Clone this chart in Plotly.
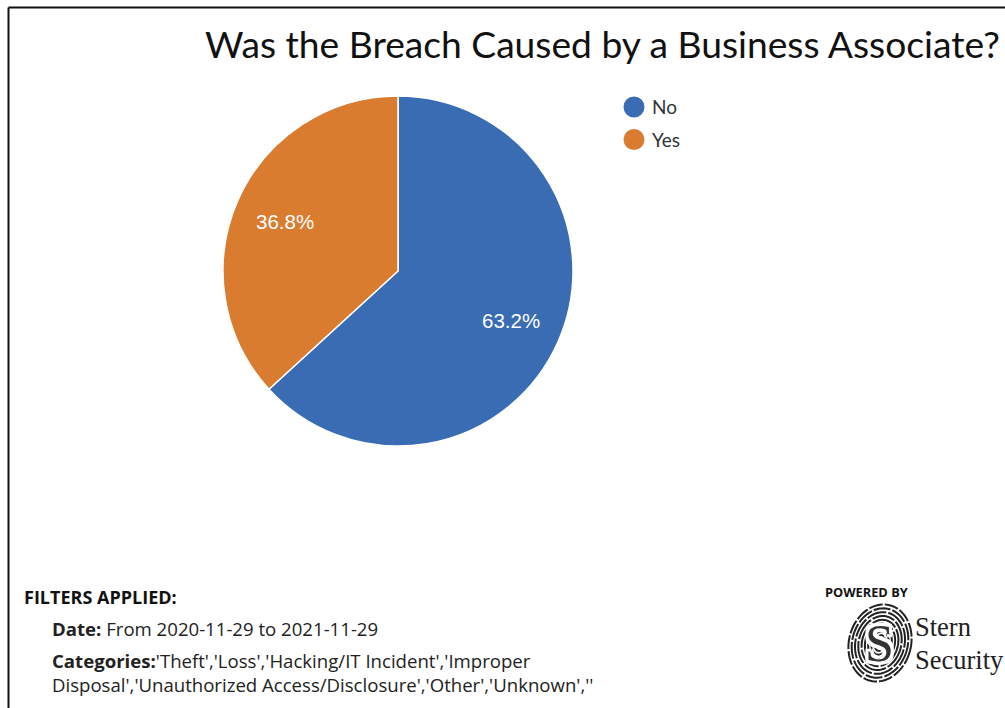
import numpy as np
import plotly.graph_objects as go

W, H = 1005, 708

labels = ["No", "Yes"]
values = [63.2, 36.8]
colors = ["#3a6cb4", "#d97c30"]
title_text = "Was the Breach Caused by a Business Associate?"

PIE_LEFT, PIE_RIGHT, PIE_TOP, PIE_BOTTOM = 223, 573, 96, 446


def px(x):
    return x / W


def py(y):
    return 1 - y / H


fig = go.Figure(
    go.Pie(
        labels=labels,
        values=values,
        sort=False,
        direction="clockwise",
        rotation=0,
        marker=dict(colors=colors, line=dict(color="white", width=1.5)),
        textinfo="none",
        showlegend=False,
        hoverinfo="label+percent",
        domain=dict(x=[px(PIE_LEFT), px(PIE_RIGHT)], y=[py(PIE_BOTTOM), py(PIE_TOP)]),
    )
)

shapes = []
annotations = []


def text(x, y, s, size, family, color="#111111", anchor="left", weight=None):
    font = dict(family=family, size=size, color=color)
    if weight:
        font["weight"] = weight
    annotations.append(dict(
        x=px(x), y=py(y), xref="paper", yref="paper", text=s, showarrow=False,
        xanchor=anchor, yanchor="middle", align="left",
        font=font, borderpad=0, borderwidth=0,
    ))


# Slice percentages sit at 0.706 of the radius along each slice's middle angle
pie_cx = (PIE_LEFT + PIE_RIGHT) / 2
pie_cy = (PIE_TOP + PIE_BOTTOM) / 2
pie_r = (PIE_RIGHT - PIE_LEFT) / 2
shares = np.array(values) / sum(values)
mids = 2 * np.pi * (np.cumsum(shares) - shares / 2)
for share, mid in zip(shares, mids):
    text(pie_cx + 0.706 * pie_r * np.sin(mid), pie_cy - 0.706 * pie_r * np.cos(mid),
         f"{share * 100:.1f}%", 20.5, "Liberation Sans", "white", anchor="center")

# Frame along the top and left edges
shapes.append(dict(type="line", xref="paper", yref="paper", x0=px(8.5), x1=1, y0=py(7.5), y1=py(7.5),
                   line=dict(color="#111111", width=2)))
shapes.append(dict(type="line", xref="paper", yref="paper", x0=px(8.5), x1=px(8.5), y0=py(7.5), y1=0,
                   line=dict(color="#111111", width=2)))

# Legend with round keys
for name, color, cy in zip(labels, colors, [107, 139.5]):
    shapes.append(dict(type="circle", xref="paper", yref="paper",
                       x0=px(623.5), x1=px(644.5), y0=py(cy + 10.5), y1=py(cy - 10.5),
                       fillcolor=color, line=dict(width=0)))
    text(652, cy, name, 19, "Lato", "#333333")

text(205, 44, title_text, 37.2, "Lato", "#111111")

# Applied-filter notes
text(24, 597, "<b>FILTERS APPLIED:</b>", 18, "Open Sans", "#111111")
text(52, 628, "<b>Date:</b> From 2020-11-29 to 2021-11-29", 18.6, "Open Sans", "#222222")
text(52, 660, "<b>Categories:</b>'Theft','Loss','Hacking/IT Incident','Improper", 18.6, "Open Sans", "#222222")
text(52, 684, "Disposal','Unauthorized Access/Disclosure','Other','Unknown',''", 18.6, "Open Sans", "#222222")

# Fingerprint emblem built from tilted, broken ellipses
cx, cy, tilt = 880, 643, np.radians(15)
t = np.linspace(0, 2 * np.pi, 90)
for i, (a, b) in enumerate(zip(np.linspace(31, 5, 9), np.linspace(39, 8, 9))):
    ex, ey = a * np.cos(t), b * np.sin(t)
    xs = cx + ex * np.cos(tilt) - ey * np.sin(tilt)
    ys = cy + ex * np.sin(tilt) + ey * np.cos(tilt)
    d = "M " + " L ".join(f"{px(u):.5f},{py(v):.5f}" for u, v in zip(xs, ys))
    shapes.append(dict(type="path", xref="paper", yref="paper", path=d,
                       line=dict(color="#222222", width=2, dash=f"{14 + 3 * i}px,2px")))
halo = ", ".join(f"{dx}px {dy}px 0 #fff" for dx in (-3, 0, 3) for dy in (-3, 0, 3))
annotations.append(dict(
    x=px(879), y=py(643), xref="paper", yref="paper", text="S", showarrow=False,
    xanchor="center", yanchor="middle",
    font=dict(family="Liberation Serif", size=52, color="#333333", shadow=halo),
))
text(825, 592, "<b>POWERED BY</b>", 12.8, "Open Sans", "#111111")
text(915, 627, "Stern", 26.5, "Liberation Serif", "#222222")
text(915, 660, "Security", 26.5, "Liberation Serif", "#222222")

fig.update_layout(
    width=W, height=H, autosize=False,
    margin=dict(l=0, r=0, t=0, b=0),
    paper_bgcolor="white", plot_bgcolor="white",
    shapes=shapes, annotations=annotations,
)

fig.write_html("out.html", config=dict(displayModeBar=False))
